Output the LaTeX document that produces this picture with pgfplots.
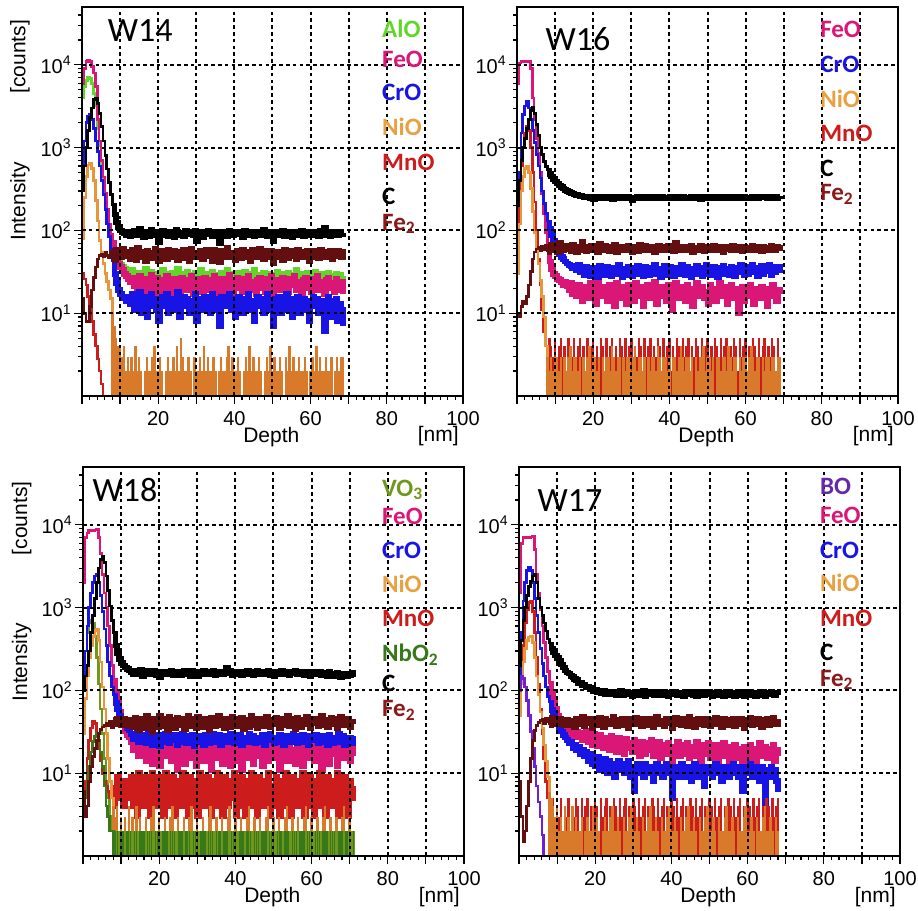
\documentclass[border=0pt]{standalone}
\usepackage{fontspec}
\setmainfont{Liberation Sans}
\newfontfamily\calib{Carlito}
\usepackage{pgfplots}
\usepackage{pgfplotstable}
\pgfplotsset{compat=1.18}

\definecolor{cAlO}{RGB}{95,215,40}
\definecolor{cFeO}{RGB}{218,22,118}
\definecolor{cCrO}{RGB}{25,20,230}
\definecolor{cNiOl}{RGB}{232,150,60}
\definecolor{cNiO}{RGB}{217,122,42}
\definecolor{cMnO}{RGB}{205,28,28}
\definecolor{cFe}{RGB}{100,15,15}
\definecolor{cVO}{RGB}{112,150,28}
\definecolor{cNb}{RGB}{55,120,25}
\definecolor{cBO}{RGB}{112,30,215}
\definecolor{tNiO}{RGB}{232,160,64}
\definecolor{tFe}{RGB}{140,25,25}
\definecolor{tBO}{RGB}{100,40,170}

% W14, surface peak (0-8 nm) and plateau (8 nm on)
\pgfplotstableread{
x AlO FeO CrO NiO MnO C Fe2
0 4000 6000 600 80 30 300 15
0.5 5500 9000 1200 250 26 600 10
1 6500 11000 2000 450 22 1000 8
1.5 7000 11500 2400 620 16 1600 8
2 6800 11000 2500 650 11 2300 12
2.5 6000 9500 2200 560 8 3000 19
3 4500 8000 1700 400 5.5 3800 27
3.5 3200 5500 1200 230 4 4000 36
4 1700 2200 900 130 2.8 3400 45
4.5 1050 1200 600 75 2 2600 50
5 620 700 400 55 1.4 1800 52
5.5 400 440 270 40 1 1200 48
6 260 280 180 30 nan 800 55
6.5 165 180 120 24 nan 550 50
7 110 120 85 19 nan 380 47
7.5 82 90 60 15 nan 270 56
8 63 70 42 10 nan 200 52
}\tAp
\pgfplotstableread{
x AlO FeO CrO NiO C Fe2
8 63 70 42 10 200 52
8.5 52 56 30 7 155 44
9 45 46 23 5 125 58
9.5 41 40 19 4 110 50
10 38 36 17 4 100 47
10.5 36 33 15 3 95 60
11 34 30 15 4 92 53
11.5 32 28 14 2 88 49
12 31 26 16 3 96 55
12.5 29 24 13 2 85 45
13 33 27 17 3 94 58
13.5 26 21 11 2 99 50
14 30 25 15 4 87 44
14.5 27 19 12 2 92 61
15 31 28 18 3 104 52
15.5 24 22 10 2 89 47
16 29 17 14 1 83 55
16.5 34 26 16 2 96 42
17 26 20 9 3 91 57
17.5 28 24 13 2 86 49
18 32 29 17 2 101 53
18.5 25 18 12 3 93 46
19 30 23 15 4 88 60
19.5 27 27 11 2 95 51
20 23 16 8 2 72 43
20.5 29 22 14 3 90 56
21 33 25 16 2 98 48
21.5 26 19 12 1 87 54
22 30 28 17 2 93 45
22.5 28 21 10 3 85 59
23 24 17 13 2 97 50
23.5 31 24 15 2 91 47
24 27 26 11 3 84 57
24.5 29 20 14 2 102 52
25 34 23 18 4 94 44
25.5 25 18 9 2 88 55
26 28 27 13 5 92 49
26.5 30 21 16 3 86 58
27 26 25 12 2 99 46
27.5 32 19 15 2 93 53
28 27 23 10 3 89 42
28.5 29 28 14 2 95 60
29 24 17 12 1 87 51
29.5 31 22 17 3 100 47
30 28 26 8 2 75 54
30.5 26 20 13 2 91 48
31 33 24 15 3 96 57
31.5 29 18 11 2 84 45
32 27 27 16 4 93 52
32.5 25 21 12 2 89 59
33 30 25 14 3 98 49
33.5 28 19 10 2 92 55
34 32 23 17 2 86 43
34.5 26 28 13 3 94 58
35 29 20 15 2 90 50
35.5 24 24 11 1 97 46
36 22 16 7 2 70 41
36.5 31 26 16 3 88 56
37 28 22 13 2 95 52
37.5 27 18 14 2 91 48
38 33 25 12 3 85 61
38.5 25 29 17 4 99 54
39 30 21 11 2 92 47
39.5 28 17 15 3 87 53
40 26 24 9 2 94 44
40.5 31 27 14 2 89 57
41 27 20 16 3 96 50
41.5 29 23 12 2 91 46
42 24 18 10 1 84 59
42.5 32 26 15 2 98 52
43 28 22 13 3 93 48
43.5 26 28 17 2 87 55
44 30 19 11 4 95 43
44.5 27 24 14 2 90 58
45 33 21 8 3 86 51
45.5 25 17 13 2 97 47
46 29 25 16 2 92 54
46.5 28 27 12 3 88 60
47 26 20 15 2 94 49
47.5 31 23 10 1 101 45
48 27 18 14 2 89 56
48.5 24 26 17 3 85 52
49 30 22 11 2 93 48
49.5 28 28 13 4 96 57
50 23 16 7 2 74 40
50.5 29 21 15 3 91 53
51 32 25 12 2 87 47
51.5 26 19 16 2 95 55
52 28 24 10 3 90 50
52.5 30 27 14 2 98 44
53 27 20 13 1 86 58
53.5 25 23 17 3 92 51
54 31 18 11 2 89 46
54.5 28 26 15 4 97 56
55 26 22 9 2 84 49
55.5 29 28 14 3 93 53
56 33 19 12 2 91 45
56.5 27 24 16 2 88 59
57 24 21 10 3 95 52
57.5 30 17 13 2 99 47
58 28 25 15 2 86 55
58.5 26 27 11 3 92 50
59 31 20 14 2 90 57
59.5 27 23 8 1 94 43
60 29 18 13 2 87 51
60.5 25 26 16 3 96 56
61 32 22 12 2 89 48
61.5 28 28 15 4 93 54
62 26 19 10 2 85 46
62.5 30 24 14 3 98 58
63 24 21 11 2 91 52
63.5 27 17 6 2 107 47
64 29 25 13 3 88 55
64.5 31 27 16 2 94 50
65 26 20 9 2 86 57
65.5 28 23 14 3 97 45
66 25 18 12 1 90 53
66.5 30 26 15 2 93 49
67 27 22 8 3 87 56
67.5 29 19 13 2 95 51
68 26 24 11 3 89 47
68.5 24 17 7 3 92 60
}\tAf

% W16
\pgfplotstableread{
x FeO CrO NiO MnO C Fe2
0 6000 30 30 60 200 10
0.5 10500 500 120 250 400 9
1 11000 1500 300 600 700 12
1.5 11000 2500 450 1000 1000 14
2 11000 3200 560 1500 1300 13
2.5 11000 3600 600 1800 1700 16
3 11000 3000 500 1600 2200 22
3.5 9000 2200 320 1000 2800 32
4 4000 1600 170 500 3100 45
4.5 2200 1150 95 220 2600 55
5 1300 820 60 100 1900 60
5.5 850 600 40 45 1400 62
6 500 430 25 22 1000 57
6.5 280 300 16 11 820 64
7 160 210 9 6 680 59
7.5 95 160 4 4 590 66
8 60 125 3 3 520 55
}\tBp
\pgfplotstableread{
x FeO CrO NiO MnO C Fe2
8 60 125 3 3 520 55
8.5 42 105 2 5 480 61
9 34 88 3 4 450 68
9.5 30 75 2 3 420 58
10 28 65 3 5 390 63
10.5 26 58 3 2 370 54
11 25 52 2 4 350 70
11.5 24 48 3 5 335 60
12 22 45 1 3 320 57
12.5 24 42 3 4 310 65
13 21 40 2 2 300 59
13.5 19 38 3 5 293 62
14 23 37 4 4 285 56
14.5 17 35 2 3 278 67
15 20 36 3 5 272 60
15.5 16 33 3 2 268 55
16 22 38 2 4 265 64
16.5 18 31 3 5 260 58
17 14 34 1 3 257 72
17.5 21 29 3 4 253 61
18 19 36 2 2 250 56
18.5 15 32 3 5 255 63
19 23 28 4 3 246 59
19.5 17 35 2 4 252 66
20 20 30 3 5 241 57
20.5 13 33 3 2 258 62
21 24 27 2 4 248 54
21.5 18 37 3 3 244 69
22 16 31 1 5 251 60
22.5 21 34 3 4 256 58
23 19 29 2 2 243 65
23.5 14 36 3 5 249 61
24 22 32 3 3 254 56
24.5 17 28 2 4 247 63
25 20 35 4 5 240 59
25.5 12 30 3 2 252 67
26 23 33 2 4 257 55
26.5 18 38 3 3 245 62
27 15 31 3 5 250 58
27.5 21 27 1 4 243 64
28 19 34 3 2 253 60
28.5 13 29 2 5 248 57
29 22 36 3 3 255 66
29.5 17 32 3 4 246 59
30 20 28 2 5 232 54
30.5 14 35 3 2 251 63
31 23 31 4 4 244 61
31.5 18 37 2 3 257 56
32 16 30 3 5 249 68
32.5 21 34 3 4 242 60
33 12 28 2 2 254 58
33.5 19 36 3 5 247 65
34 22 32 1 3 252 57
34.5 15 29 3 4 245 62
35 20 35 2 5 256 59
35.5 17 31 3 2 243 64
36 24 38 3 4 250 55
36.5 13 30 2 3 248 61
37 18 33 4 5 253 66
37.5 21 27 3 4 244 58
38 16 34 2 2 258 60
38.5 19 37 3 5 247 63
39 14 31 3 3 251 57
39.5 22 29 2 4 242 65
40 18 36 3 5 255 59
40.5 11 32 1 2 249 62
41 20 28 3 4 246 56
41.5 23 35 3 3 252 70
42 17 30 2 5 244 61
42.5 15 33 3 4 257 58
43 21 38 4 2 248 64
43.5 19 31 3 5 253 60
44 14 29 2 3 245 57
44.5 22 36 3 4 250 63
45 17 32 3 5 243 59
45.5 20 27 2 2 256 66
46 12 34 3 4 249 55
46.5 18 30 1 3 252 62
47 23 37 3 5 246 60
47.5 16 31 2 4 254 58
48 19 35 3 2 241 65
48.5 21 28 3 5 250 61
49 15 33 4 3 247 56
49.5 18 38 2 4 255 64
50 13 30 3 5 243 59
50.5 22 34 3 2 251 62
51 17 29 2 4 248 57
51.5 20 36 3 3 253 66
52 14 32 1 5 245 60
52.5 19 27 3 4 256 58
53 23 35 3 2 249 63
53.5 16 31 2 5 244 61
54 18 37 3 3 252 55
54.5 21 30 3 4 247 64
55 13 34 2 5 254 59
55.5 19 29 4 2 250 62
56 22 36 3 4 243 57
56.5 15 32 2 3 255 65
57 17 28 3 5 248 60
57.5 20 35 3 4 251 58
58 10 31 1 2 246 63
58.5 18 38 3 5 253 61
59 21 33 2 3 249 56
59.5 14 29 3 4 257 64
60 19 36 3 5 244 59
60.5 16 30 2 2 250 62
61 22 34 3 4 247 57
61.5 17 38 4 3 254 66
62 13 31 3 5 248 60
62.5 20 35 2 4 252 58
63 18 28 3 2 245 63
63.5 15 33 3 5 251 61
64 21 37 1 3 256 56
64.5 17 30 3 4 249 64
65 19 35 2 5 253 59
65.5 12 32 3 2 246 62
66 20 38 3 4 250 57
66.5 16 29 2 3 255 65
67 22 34 3 5 248 60
67.5 18 31 3 4 252 58
68 14 36 2 2 247 63
68.5 19 33 3 5 258 61
69 17 39 3 3 262 66
}\tBf

% W18
\pgfplotstableread{
x VO3 FeO CrO NiO MnO NbO2 C Fe2
0 150 2000 150 30 5 3 100 6
0.5 300 7000 300 80 8 5 150 3
1 500 8000 600 150 15 8 200 4
1.5 650 8500 1000 250 25 12 300 8
2 700 8500 1500 350 35 18 500 12
2.5 650 8600 2000 450 42 24 800 16
3 450 8700 2400 530 40 28 1300 20
3.5 250 8800 2500 550 30 30 2000 25
4 120 7000 2000 400 20 25 3000 30
4.5 60 4500 1400 220 14 18 3800 34
5 30 2500 900 110 10 12 4200 36
5.5 15 1500 550 60 8 7 3500 38
6 8 1000 350 30 7 4 2400 40
6.5 5 600 220 15 6 3 1600 37
7 3 350 150 8 5 2 1050 42
7.5 2 200 110 5 7 2 700 35
8 2 130 85 4 4 1 480 44
}\tCp
\pgfplotstableread{
x VO3 FeO CrO NiO MnO NbO2 C Fe2
8 2 130 85 4 4 1 480 44
8.5 1 95 70 3 6 2 350 39
9 2 70 60 4 9 2 280 46
9.5 2 55 50 2 5 1 240 41
10 1 45 45 3 7 2 215 38
10.5 2 38 40 2 4 2 200 45
11 2 32 38 3 8 1 190 40
11.5 1 29 35 2 6 2 182 43
12 2 27 33 4 5 2 175 37
12.5 2 24 30 2 9 2 168 44
13 2 19 26 3 4 1 158 36
13.5 1 26 28 2 7 2 172 47
14 2 21 31 4 3 2 155 39
14.5 2 16 24 2 10 1 163 33
15 2 23 29 3 5 2 178 45
15.5 1 18 25 2 8 2 150 41
16 2 25 27 1 4 2 166 35
16.5 2 14 23 3 9 1 160 49
17 2 22 30 2 6 2 171 38
17.5 1 19 26 2 3 2 157 43
18 2 13 22 3 10 2 164 31
18.5 2 24 28 4 5 1 175 46
19 2 17 25 2 8 2 152 40
19.5 1 21 29 2 4 2 168 36
20 2 12 21 3 9 2 145 50
20.5 2 20 27 2 6 1 162 42
21 2 25 24 1 3 2 170 37
21.5 1 16 30 3 10 2 156 45
22 2 22 26 2 5 2 165 33
22.5 2 18 23 2 7 1 159 48
23 2 14 28 3 4 2 174 39
23.5 1 23 25 4 9 2 151 44
24 2 19 29 2 3 2 167 35
24.5 2 11 22 2 8 1 161 47
25 2 21 27 3 6 2 169 41
25.5 1 24 24 2 4 2 154 38
26 2 17 30 1 10 2 163 46
26.5 2 13 26 3 5 1 172 34
27 2 22 23 2 7 2 158 43
27.5 1 19 28 2 3 2 166 49
28 2 15 25 3 9 2 150 37
28.5 2 25 29 4 6 1 173 45
29 2 18 21 2 4 2 160 40
29.5 1 12 27 2 8 2 164 35
30 2 21 24 3 3 2 147 48
30.5 2 16 28 2 10 1 169 42
31 2 23 25 1 5 2 157 36
31.5 1 14 22 3 7 2 171 46
32 2 20 29 2 4 2 162 39
32.5 2 17 26 2 9 1 155 44
33 2 24 23 3 6 2 168 33
33.5 1 11 27 4 3 2 160 47
34 2 19 30 2 8 2 174 41
34.5 2 22 24 2 5 1 152 37
35 2 15 26 3 10 2 165 45
35.5 1 18 29 2 4 2 159 50
36 2 25 22 1 7 2 170 38
36.5 2 13 27 3 3 1 156 43
37 2 20 25 2 9 2 167 35
37.5 1 16 28 2 6 2 186 46
38 2 23 24 3 4 2 161 40
38.5 2 12 30 4 8 1 173 36
39 2 21 26 2 5 2 154 48
39.5 1 17 23 2 10 2 164 42
40 2 14 28 3 3 2 158 37
40.5 2 24 25 2 7 1 170 45
41 2 19 29 1 4 2 162 39
41.5 1 11 22 3 9 2 153 47
42 2 22 26 2 6 2 168 34
42.5 2 18 27 2 3 1 160 44
43 2 15 24 3 8 2 175 41
43.5 1 23 30 4 5 2 157 36
44 2 20 25 2 10 2 166 49
44.5 2 13 28 2 4 1 151 38
45 2 21 23 3 7 2 163 43
45.5 1 16 27 2 3 2 172 35
46 2 25 26 1 9 2 159 46
46.5 2 18 24 3 6 1 167 40
47 2 12 29 2 4 2 155 45
47.5 1 22 22 2 8 2 169 37
48 2 19 28 3 5 2 161 48
48.5 2 14 25 4 10 1 174 42
49 2 24 30 2 3 2 153 36
49.5 1 17 26 2 7 2 165 44
50 2 21 23 3 4 2 148 39
50.5 2 15 27 2 9 1 170 47
51 2 23 24 1 6 2 158 41
51.5 1 11 29 3 3 2 163 35
52 2 20 26 2 8 2 171 46
52.5 2 18 22 2 5 1 156 38
53 2 25 28 3 10 2 166 43
53.5 1 14 25 4 4 2 160 50
54 2 22 27 2 7 2 152 37
54.5 2 16 24 2 3 1 168 45
55 2 19 30 3 9 2 162 40
55.5 1 13 26 2 6 2 173 34
56 2 24 23 1 4 2 157 47
56.5 2 20 28 3 8 1 165 42
57 2 17 25 2 5 2 159 36
57.5 1 12 29 2 10 2 170 44
58 2 21 24 3 3 2 154 39
58.5 2 23 27 4 7 1 166 48
59 2 15 22 2 4 2 161 41
59.5 1 18 28 2 9 2 150 35
60 2 25 25 3 6 2 167 46
60.5 2 14 26 2 3 1 158 40
61 2 19 29 1 8 2 163 45
61.5 1 22 23 3 5 2 156 37
62 2 16 27 2 10 2 169 43
62.5 2 11 24 2 4 1 152 49
63 2 21 28 3 7 2 164 38
63.5 1 24 25 4 3 2 159 44
64 2 18 22 2 9 2 147 36
64.5 2 13 29 2 6 1 166 42
65 2 20 26 3 4 2 155 47
65.5 1 23 23 2 8 2 161 39
66 2 17 27 1 5 2 150 45
66.5 2 12 24 3 10 1 163 35
67 2 22 30 2 3 2 157 43
67.5 1 19 25 2 7 2 146 48
68 2 15 28 3 4 2 160 38
68.5 2 24 22 4 9 1 153 44
69 2 18 26 2 6 2 148 40
69.5 1 21 24 2 3 2 159 46
70 2 14 27 3 8 2 151 36
70.5 2 20 23 2 5 1 162 42
71 2 16 28 2 7 2 147 39
}\tCf

% W17
\pgfplotstableread{
x BO FeO CrO NiO MnO C Fe2
0 100 1500 100 50 50 200 8
0.5 150 6000 500 120 150 400 3
1 140 7000 1200 220 350 700 1.5
1.5 110 7000 2000 320 650 1000 2
2 75 7000 2800 400 950 1400 4
2.5 50 7000 3100 440 1150 1800 8
3 32 7100 2800 450 1200 2100 15
3.5 20 7200 2000 380 900 2400 25
4 12 5000 1300 250 500 2500 33
4.5 7 2500 800 150 250 2000 38
5 4.5 1500 500 90 120 1300 41
5.5 3 950 320 55 60 1000 43
6 1.8 600 210 35 30 800 45
6.5 1 380 150 22 15 650 40
7 nan 250 110 14 8 520 46
7.5 nan 170 85 9 5 420 42
8 nan 120 70 6 4 360 38
}\tDp
\pgfplotstableread{
x FeO CrO NiO MnO C Fe2
8 120 70 6 4 360 38
8.5 95 58 5 3 320 47
9 75 50 4 5 290 41
9.5 60 45 3 2 265 44
10 50 40 4 4 245 39
10.5 45 36 2 3 225 46
11 40 32 3 5 205 40
11.5 37 29 2 2 190 43
12 35 27 4 4 175 38
12.5 33 25 2 3 165 44
13 36 23 3 5 160 38
13.5 30 24 2 2 150 43
14 34 20 4 4 146 40
14.5 28 22 2 3 137 36
15 32 19 3 5 133 45
15.5 27 21 2 4 124 39
16 31 17 2 2 125 42
16.5 25 19 3 5 116 48
17 29 16 1 3 117 37
17.5 33 18 2 4 110 43
18 24 14 3 5 112 40
18.5 28 17 2 2 103 46
19 22 13 2 4 107 35
19.5 30 15 4 3 99 41
20 26 12 2 5 103 44
20.5 21 16 3 4 94 38
21 29 11 2 2 100 47
21.5 25 14 1 5 92 42
22 20 13 2 3 98 36
22.5 27 15 3 4 90 45
23 23 10 2 5 96 40
23.5 19 14 2 2 89 43
24 28 12 3 4 97 39
24.5 22 13 4 3 91 48
25 25 9 2 5 95 41
25.5 18 12 2 4 88 37
26 27 14 3 2 94 44
26.5 21 11 2 5 99 40
27 24 13 1 3 87 46
27.5 17 10 3 4 93 38
28 26 12 2 5 96 42
28.5 20 14 2 2 89 35
29 23 9 3 4 94 45
29.5 18 12 4 3 86 41
30 25 6 2 5 92 39
30.5 19 11 2 4 97 47
31 22 13 3 2 88 40
31.5 16 10 2 5 94 43
32 24 12 1 3 90 37
32.5 20 9 3 4 98 46
33 17 13 2 5 86 42
33.5 23 11 2 2 93 38
34 19 10 3 4 89 45
34.5 25 12 4 3 95 40
35 16 8 2 5 91 36
35.5 21 11 2 4 87 44
36 18 13 3 2 96 48
36.5 24 10 2 5 90 39
37 15 12 1 3 94 43
37.5 20 9 3 4 88 41
38 22 11 2 5 97 37
38.5 17 13 2 2 92 46
39 23 10 3 4 85 40
39.5 19 12 4 3 93 44
40 14 5 2 5 89 35
40.5 21 11 2 4 96 42
41 18 9 3 2 90 47
41.5 24 12 2 5 87 39
42 16 10 1 3 94 43
42.5 20 13 3 4 91 38
43 22 9 2 5 86 45
43.5 17 11 2 2 95 41
44 23 10 3 4 89 37
44.5 15 12 4 3 93 48
45 19 8 2 5 97 40
45.5 21 11 2 4 88 44
46 16 13 3 2 92 36
46.5 24 9 2 5 86 42
47 18 12 1 3 95 46
47.5 14 10 3 4 90 39
48 22 11 2 5 94 43
48.5 19 7 2 2 87 38
49 17 12 3 4 91 45
49.5 23 10 4 3 96 41
50 15 12 2 5 89 37
50.5 20 9 2 4 85 44
51 18 11 3 2 93 40
51.5 22 13 2 5 90 47
52 14 10 1 3 96 39
52.5 21 12 3 4 88 42
53 17 8 2 5 92 36
53.5 23 11 2 2 86 45
54 16 10 3 4 94 41
54.5 19 12 4 3 89 38
55 13 9 2 5 95 44
55.5 21 11 2 4 87 40
56 18 13 3 2 91 46
56.5 22 10 2 5 85 37
57 15 12 1 3 93 43
57.5 20 9 3 4 97 39
58 17 11 2 5 88 45
58.5 12 6 2 2 92 41
59 21 12 3 4 86 35
59.5 18 10 4 3 94 44
60 15 11 2 5 89 40
60.5 22 13 2 4 96 47
61 17 9 3 2 87 38
61.5 20 12 2 5 91 43
62 14 10 1 3 85 39
62.5 19 11 3 4 93 46
63 23 8 2 5 88 41
63.5 16 12 2 2 95 36
64 18 10 3 4 90 44
64.5 21 4 4 3 86 40
65 15 11 2 5 94 45
65.5 20 9 2 4 89 38
66 17 12 3 2 97 43
66.5 22 10 2 5 91 47
67 14 11 1 3 87 39
67.5 19 8 3 4 93 42
68 16 6 2 5 89 36
}\tDf

\pgfplotsset{
  mypanel/.style={
    scale only axis, width=190.5pt, height=194.5pt,
    xmin=0, xmax=100, ymin=1, ymax=50000,
    xtick={0,10,...,100}, xticklabels={,,20,,40,,60,,80,,100},
    minor x tick num=4,
    ytick={10,100,1000,10000},
    yticklabels={10\textsuperscript{1},10\textsuperscript{2},10\textsuperscript{3},10\textsuperscript{4}},
    minor ytick={2,3,4,5,6,7,8,9,20,30,40,50,60,70,80,90,200,300,400,500,600,700,800,900,2000,3000,4000,5000,6000,7000,8000,9000,20000,30000,40000},
    xtick pos=bottom, ytick pos=left, tick align=outside,
    major tick length=4pt, minor tick length=2pt,
    tick style={black, line width=0.6pt},
    axis line style={line width=0.7pt},
    grid=major, major grid style={black, line width=1pt, dash pattern=on 1.8pt off 1.6pt},
    axis on top,
    ticklabel style={font=\fontsize{10}{12}\selectfont},
    yticklabel style={inner sep=1pt},
    every axis plot/.append style={const plot, line width=1.3pt},
    unbounded coords=discard,
  },
}
\tikzset{
  lab/.style={font=\fontsize{10.5}{12}\selectfont},
  leg/.style={anchor=west, font=\calib\bfseries\fontsize{12.5}{14}\selectfont, text height=8pt, text depth=0pt, inner sep=0pt},
  ttl/.style={font=\calib\fontsize{17}{20}\selectfont},
  band/.style={line width=2.8pt},
  comb/.style={ycomb, line width=1.2pt},
}

\begin{document}
\begin{tikzpicture}
\useasboundingbox (0,0) rectangle (459pt,-455.5pt);

% ---- W14 ----
\begin{semilogyaxis}[mypanel, at={(41pt,-3.5pt)}, anchor=north west,
  extra description/.code={
    \node[lab, rotate=90] at (-0.163,0.5) {Intensity};
    \node[lab, rotate=90] at (-0.163,0.872) {[counts]};
    \node[lab] at (0.497,-0.105) {Depth};
    \node[lab] at (0.935,-0.104) {[nm]};
    \node[ttl] at (0.153,0.94) {W14};
    \node[leg, text=cAlO] at (0.787,0.941) {AlO};
    \node[leg, text=cFeO] at (0.787,0.864) {FeO};
    \node[leg, text=cCrO] at (0.787,0.779) {CrO};
    \node[leg, text=tNiO] at (0.787,0.689) {NiO};
    \node[leg, text=cMnO] at (0.787,0.599) {MnO};
    \node[leg, text=black] at (0.787,0.512) {C};
    \node[leg, text=tFe] at (0.787,0.447) {Fe\textsubscript{2}};
  }]
  \addplot[cAlO] table[y=AlO]{\tAp};
  \addplot[cAlO, band] table[y=AlO]{\tAf};
  \addplot[cFeO] table[y=FeO]{\tAp};
  \addplot[cFeO, band] table[y=FeO]{\tAf};
  \addplot[cCrO] table[y=CrO]{\tAp};
  \addplot[cCrO, band] table[y=CrO]{\tAf};
  \addplot[cMnO] table[y=MnO]{\tAp};
  \addplot[cNiOl] table[y=NiO]{\tAp};
  \addplot[cNiO, comb] table[y=NiO]{\tAf};
  \addplot[cFe] table[y=Fe2]{\tAp};
  \addplot[cFe, band] table[y=Fe2]{\tAf};
  \addplot[black] table[y=C]{\tAp};
  \addplot[black, band] table[y=C]{\tAf};
\end{semilogyaxis}

% ---- W16 ----
\begin{semilogyaxis}[mypanel, at={(258.5pt,-3.5pt)}, anchor=north west,
  extra description/.code={
    \node[lab] at (0.497,-0.105) {Depth};
    \node[lab] at (0.935,-0.104) {[nm]};
    \node[ttl] at (0.16,0.918) {W16};
    \node[leg, text=cFeO] at (0.795,0.941) {FeO};
    \node[leg, text=cCrO] at (0.795,0.851) {CrO};
    \node[leg, text=tNiO] at (0.795,0.763) {NiO};
    \node[leg, text=cMnO] at (0.795,0.676) {MnO};
    \node[leg, text=black] at (0.795,0.586) {C};
    \node[leg, text=tFe] at (0.795,0.522) {Fe\textsubscript{2}};
  }]
  \addplot[cFeO] table[y=FeO]{\tBp};
  \addplot[cFeO, band] table[y=FeO]{\tBf};
  \addplot[cCrO] table[y=CrO]{\tBp};
  \addplot[cCrO, band] table[y=CrO]{\tBf};
  \addplot[cMnO] table[y=MnO]{\tBp};
  \addplot[cMnO, comb] table[y=MnO]{\tBf};
  \addplot[cNiOl] table[y=NiO]{\tBp};
  \addplot[cNiO, comb] table[y=NiO]{\tBf};
  \addplot[cFe] table[y=Fe2]{\tBp};
  \addplot[cFe, band] table[y=Fe2]{\tBf};
  \addplot[black] table[y=C]{\tBp};
  \addplot[black, band] table[y=C]{\tBf};
\end{semilogyaxis}

% ---- W18 ----
\begin{semilogyaxis}[mypanel, at={(41.5pt,-233.5pt)}, anchor=north west,
  extra description/.code={
    \node[lab, rotate=90] at (-0.161,0.498) {Intensity};
    \node[lab, rotate=90] at (-0.161,0.868) {[counts]};
    \node[lab] at (0.497,-0.105) {Depth};
    \node[lab] at (0.935,-0.106) {[nm]};
    \node[ttl] at (0.11,0.94) {W18};
    \node[leg, text=cVO] at (0.784,0.945) {VO\textsubscript{3}};
    \node[leg, text=cFeO] at (0.784,0.874) {FeO};
    \node[leg, text=cCrO] at (0.784,0.786) {CrO};
    \node[leg, text=tNiO] at (0.784,0.698) {NiO};
    \node[leg, text=cMnO] at (0.784,0.610) {MnO};
    \node[leg, text=cNb] at (0.784,0.520) {NbO\textsubscript{2}};
    \node[leg, text=black] at (0.784,0.443) {C};
    \node[leg, text=tFe] at (0.784,0.378) {Fe\textsubscript{2}};
  }]
  \addplot[cVO] table[y=VO3]{\tCp};
  \addplot[cFeO] table[y=FeO]{\tCp};
  \addplot[cFeO, band] table[y=FeO]{\tCf};
  \addplot[cCrO] table[y=CrO]{\tCp};
  \addplot[cCrO, band] table[y=CrO]{\tCf};
  \addplot[cMnO] table[y=MnO]{\tCp};
  \addplot[cMnO, band] table[y=MnO]{\tCf};
  \addplot[cNiOl] table[y=NiO]{\tCp};
  \addplot[cNiO, comb] table[y=NiO]{\tCf};
  \addplot[cVO, comb] table[y=VO3]{\tCf};
  \addplot[cNb] table[y=NbO2]{\tCp};
  \addplot[cNb, comb, line width=0.7pt] table[y=NbO2]{\tCf};
  \addplot[cFe] table[y=Fe2]{\tCp};
  \addplot[cFe, band] table[y=Fe2]{\tCf};
  \addplot[black] table[y=C]{\tCp};
  \addplot[black, band] table[y=C]{\tCf};
\end{semilogyaxis}

% ---- W17 ----
\begin{semilogyaxis}[mypanel, at={(259.5pt,-233.5pt)}, anchor=north west,
  extra description/.code={
    \node[lab] at (0.497,-0.105) {Depth};
    \node[lab] at (0.935,-0.106) {[nm]};
    \node[ttl] at (0.134,0.915) {W17};
    \node[leg, text=tBO] at (0.789,0.949) {BO};
    \node[leg, text=cFeO] at (0.789,0.876) {FeO};
    \node[leg, text=cCrO] at (0.789,0.786) {CrO};
    \node[leg, text=tNiO] at (0.789,0.700) {NiO};
    \node[leg, text=cMnO] at (0.789,0.610) {MnO};
    \node[leg, text=black] at (0.789,0.524) {C};
    \node[leg, text=tFe] at (0.789,0.457) {Fe\textsubscript{2}};
  }]
  \addplot[cFeO] table[y=FeO]{\tDp};
  \addplot[cFeO, band] table[y=FeO]{\tDf};
  \addplot[cCrO] table[y=CrO]{\tDp};
  \addplot[cCrO, band] table[y=CrO]{\tDf};
  \addplot[cMnO] table[y=MnO]{\tDp};
  \addplot[cMnO, comb] table[y=MnO]{\tDf};
  \addplot[cNiOl] table[y=NiO]{\tDp};
  \addplot[cNiO, comb] table[y=NiO]{\tDf};
  \addplot[cBO] table[y=BO]{\tDp};
  \addplot[cFe] table[y=Fe2]{\tDp};
  \addplot[cFe, band] table[y=Fe2]{\tDf};
  \addplot[black] table[y=C]{\tDp};
  \addplot[black, band] table[y=C]{\tDf};
\end{semilogyaxis}
\end{tikzpicture}
\end{document}
